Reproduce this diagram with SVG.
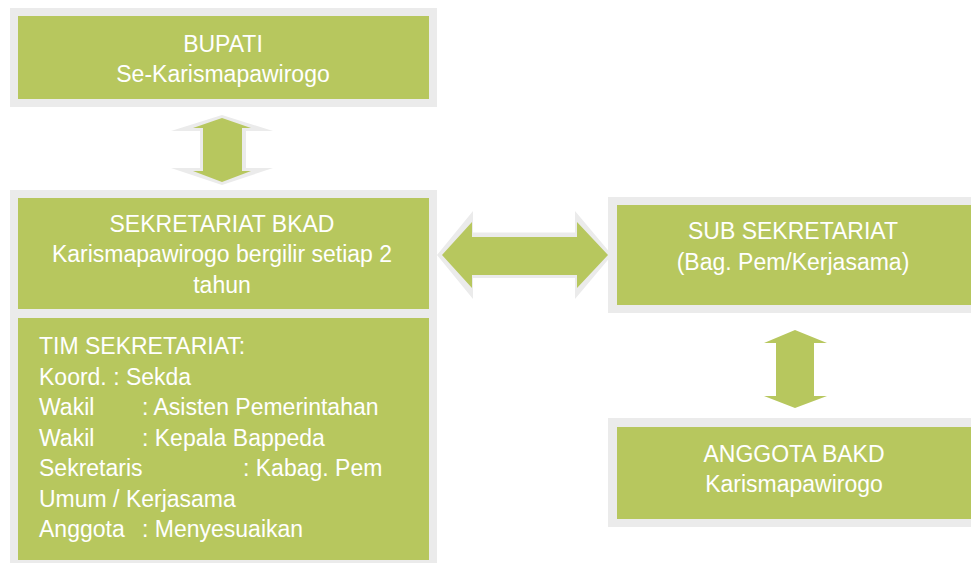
<svg xmlns="http://www.w3.org/2000/svg" width="971" height="563" viewBox="0 0 971 563">
<style>
.frame{fill:#EBEBEB}
.box{fill:#B7C75E}
.halo{fill:#EBEBEB}
.arrow{fill:#B7C75E}
text{font-family:"Liberation Sans",Arial,sans-serif;font-size:23px;fill:#FFFFFF}
.c{text-anchor:middle}
</style>
<rect width="971" height="563" fill="#FFFFFF"/>
<g id="bupati">
<rect class="frame" x="10" y="8" width="427" height="99"/>
<rect class="box" x="18" y="16" width="411" height="83"/>
<text class="c" x="223" y="52">BUPATI</text>
<text class="c" x="223" y="82">Se-Karismapawirogo</text>
</g>
<g id="sekretariat">
<rect class="frame" x="10" y="190" width="427" height="373"/>
<rect class="box" x="18" y="198" width="411" height="111"/>
<text class="c" x="222" y="232">SEKRETARIAT BKAD</text>
<text class="c" x="222" y="262">Karismapawirogo bergilir setiap 2</text>
<text class="c" x="222" y="293">tahun</text>
</g>
<g id="tim">
<rect class="box" x="18" y="318" width="411" height="242"/>
<text x="39" y="354">TIM SEKRETARIAT:</text>
<text x="39" y="384.5">Koord. : Sekda</text>
<text x="39" y="415">Wakil</text><text x="142" y="415">: Asisten Pemerintahan</text>
<text x="39" y="445.5">Wakil</text><text x="142" y="445.5">: Kepala Bappeda</text>
<text x="39" y="476">Sekretaris</text><text x="243" y="476">: Kabag. Pem</text>
<text x="39" y="506.5">Umum / Kerjasama</text>
<text x="39" y="537">Anggota</text><text x="142" y="537">: Menyesuaikan</text>
</g>
<g id="sub">
<rect class="frame" x="608" y="197" width="363" height="116"/>
<rect class="box" x="617" y="205" width="354" height="100"/>
<text class="c" x="793" y="239">SUB SEKRETARIAT</text>
<text class="c" x="793" y="270">(Bag. Pem/Kerjasama)</text>
</g>
<g id="anggota">
<rect class="frame" x="608" y="418" width="363" height="109"/>
<rect class="box" x="617" y="427" width="354" height="92"/>
<text class="c" x="794" y="462">ANGGOTA BAKD</text>
<text class="c" x="794" y="492">Karismapawirogo</text>
</g>
<g id="connectors">
<polygon class="halo" points="222,115 273,131 246,131 246,168 273,168 222,185 171,168 200,168 200,131 171,131"/>
<polygon class="arrow" points="222,118 251,128 242,128 242,171 251,171 222,182 193,171 203,171 203,128 193,128"/>
<polygon class="halo" points="437,255 473,211 473,232.5 575,232.5 575,211 612,255 575,299 575,278 473,278 473,299"/>
<polygon class="arrow" points="442,255 472,222 472,237 577,237 577,222 608,255 577,288 577,275 472,275 472,288"/>
<polygon class="arrow" points="795,330 827,343 814,343 814,396 827,396 795,408 764,396 776,396 776,343 764,343"/>
</g>
</svg>
